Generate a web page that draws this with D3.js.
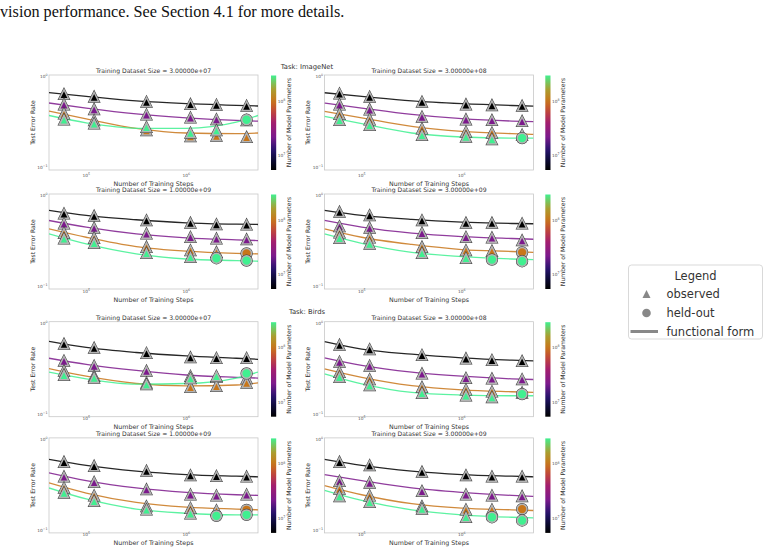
<!DOCTYPE html>
<html>
<head>
<meta charset="utf-8">
<script src="https://cdn.jsdelivr.net/npm/d3@7"></script>
<style>
  body { margin: 0; background: #fff; }
  text { font-family: "DejaVu Sans", sans-serif; fill: #333; }
</style>
</head>
<body>
<svg id="chart" width="768" height="554"></svg>
<script>
// 1. Data
const tasks = ["ImageNet", "Birds"];
const datasetSizes = ["3.00000e+07", "3.00000e+08", "1.00000e+09", "3.00000e+09"];
const trainSteps = [6e4, 1.2e5, 4e5, 1.1e6, 2e6, 4e6];
const fitSteps = [4.25e4, 1e5, 3.16e5, 1e6, 3.16e6, 5.2e6];
const modelParams = [5.4e6, 2.2e7, 1.0e8, 2.95e8];
const cbTicks = [1e7, 1e8];

// observed / held-out error, one row per model size (small -> large)
const errImageNet3e7 = [
  [0.637, 0.596, 0.524, 0.494, 0.486, 0.474],
  [0.490, 0.435, 0.380, 0.352, 0.337, 0.329],
  [0.389, 0.329, 0.255, 0.220, 0.222, 0.215],
  [0.334, 0.302, 0.277, 0.240, 0.255, 0.335]
];
const errImageNet3e8 = [
  [0.646, 0.594, 0.524, 0.490, 0.481, 0.473],
  [0.490, 0.432, 0.359, 0.336, 0.330, 0.322],
  [0.384, 0.336, 0.267, 0.246, 0.240, 0.228],
  [0.330, 0.291, 0.226, 0.217, 0.204, 0.211]
];
const errImageNet1e9 = [
  [0.629, 0.593, 0.531, 0.497, 0.480, 0.476],
  [0.489, 0.438, 0.379, 0.348, 0.334, 0.328],
  [0.386, 0.340, 0.271, 0.249, 0.238, 0.232],
  [0.334, 0.299, 0.232, 0.210, 0.205, 0.193]
];
const errImageNet3e9 = [
  [0.656, 0.603, 0.531, 0.497, 0.497, 0.489],
  [0.456, 0.438, 0.386, 0.348, 0.343, 0.320],
  [0.389, 0.343, 0.271, 0.249, 0.245, 0.238],
  [0.340, 0.294, 0.232, 0.205, 0.198, 0.190]
];
const errBirds3e7 = [
  [0.589, 0.532, 0.468, 0.419, 0.412, 0.412],
  [0.385, 0.339, 0.298, 0.262, 0.255, 0.247],
  [0.298, 0.262, 0.221, 0.198, 0.203, 0.221],
  [0.269, 0.251, 0.212, 0.247, 0.262, 0.281]
];
const errBirds3e8 = [
  [0.574, 0.514, 0.445, 0.408, 0.392, 0.381],
  [0.375, 0.339, 0.278, 0.249, 0.245, 0.241],
  [0.290, 0.241, 0.198, 0.186, 0.177, 0.172],
  [0.255, 0.207, 0.170, 0.160, 0.153, 0.167]
];
const errBirds1e9 = [
  [0.562, 0.508, 0.448, 0.401, 0.394, 0.388],
  [0.388, 0.338, 0.281, 0.247, 0.241, 0.247],
  [0.293, 0.241, 0.184, 0.176, 0.166, 0.169],
  [0.258, 0.209, 0.169, 0.153, 0.145, 0.149]
];
const errBirds3e9 = [
  [0.562, 0.517, 0.437, 0.401, 0.388, 0.388],
  [0.347, 0.333, 0.269, 0.247, 0.241, 0.237],
  [0.286, 0.241, 0.184, 0.169, 0.169, 0.172],
  [0.237, 0.204, 0.172, 0.140, 0.140, 0.129]
];

// functional form, sampled at fitSteps
const fitImageNet3e7 = [
  [0.665, 0.605, 0.538, 0.502, 0.482, 0.474],
  [0.511, 0.450, 0.389, 0.352, 0.329, 0.323],
  [0.417, 0.343, 0.270, 0.240, 0.236, 0.240],
  [0.373, 0.310, 0.270, 0.270, 0.315, 0.373]
];
const fitImageNet3e8 = [
  [0.662, 0.604, 0.538, 0.502, 0.480, 0.473],
  [0.510, 0.450, 0.384, 0.344, 0.324, 0.319],
  [0.414, 0.352, 0.284, 0.250, 0.236, 0.232],
  [0.365, 0.303, 0.240, 0.217, 0.211, 0.211]
];
const fitImageNet1e9 = [
  [0.684, 0.603, 0.541, 0.501, 0.484, 0.480],
  [0.531, 0.449, 0.379, 0.343, 0.326, 0.320],
  [0.430, 0.348, 0.275, 0.245, 0.232, 0.229],
  [0.379, 0.294, 0.229, 0.201, 0.193, 0.190]
];
const fitImageNet3e9 = [
  [0.684, 0.603, 0.545, 0.510, 0.492, 0.489],
  [0.531, 0.449, 0.386, 0.354, 0.337, 0.331],
  [0.430, 0.348, 0.290, 0.255, 0.243, 0.238],
  [0.379, 0.299, 0.238, 0.214, 0.201, 0.198]
];
const fitBirds3e7 = [
  [0.631, 0.541, 0.476, 0.437, 0.412, 0.401],
  [0.412, 0.353, 0.303, 0.270, 0.255, 0.250],
  [0.318, 0.262, 0.218, 0.205, 0.210, 0.222],
  [0.290, 0.245, 0.215, 0.218, 0.250, 0.290]
];
const fitBirds3e8 = [
  [0.626, 0.519, 0.456, 0.416, 0.392, 0.385],
  [0.416, 0.344, 0.290, 0.262, 0.245, 0.241],
  [0.316, 0.255, 0.207, 0.186, 0.177, 0.174],
  [0.278, 0.216, 0.174, 0.163, 0.160, 0.160]
];
const fitBirds1e9 = [
  [0.601, 0.517, 0.448, 0.411, 0.394, 0.388],
  [0.429, 0.353, 0.293, 0.262, 0.247, 0.243],
  [0.333, 0.258, 0.204, 0.181, 0.172, 0.169],
  [0.293, 0.222, 0.172, 0.155, 0.149, 0.149]
];
const fitBirds3e9 = [
  [0.601, 0.517, 0.448, 0.411, 0.394, 0.388],
  [0.411, 0.353, 0.293, 0.262, 0.243, 0.237],
  [0.311, 0.247, 0.197, 0.176, 0.169, 0.166],
  [0.276, 0.214, 0.169, 0.149, 0.140, 0.138]
];

// index of the first held-out point for each model size (6 = none)
const heldImageNet3e7 = [6, 6, 6, 5];
const heldImageNet3e8 = [6, 6, 6, 5];
const heldImageNet1e9 = [6, 6, 5, 4];
const heldImageNet3e9 = [6, 6, 5, 4];
const heldBirds3e7 = [6, 6, 6, 5];
const heldBirds3e8 = [6, 6, 6, 5];
const heldBirds1e9 = [6, 6, 5, 4];
const heldBirds3e9 = [6, 6, 5, 4];

const panels = [
  { task: 0, size: 0, err: errImageNet3e7, fit: fitImageNet3e7, held: heldImageNet3e7 },
  { task: 0, size: 1, err: errImageNet3e8, fit: fitImageNet3e8, held: heldImageNet3e8 },
  { task: 0, size: 2, err: errImageNet1e9, fit: fitImageNet1e9, held: heldImageNet1e9 },
  { task: 0, size: 3, err: errImageNet3e9, fit: fitImageNet3e9, held: heldImageNet3e9 },
  { task: 1, size: 0, err: errBirds3e7, fit: fitBirds3e7, held: heldBirds3e7 },
  { task: 1, size: 1, err: errBirds3e8, fit: fitBirds3e8, held: heldBirds3e8 },
  { task: 1, size: 2, err: errBirds1e9, fit: fitBirds1e9, held: heldBirds1e9 },
  { task: 1, size: 3, err: errBirds3e9, fit: fitBirds3e9, held: heldBirds3e9 }
];

// 2. Layout
const colLeft = [49, 324.5];
const rowTop = [75, 194, 321.7, 437.9];
const xlabOff = [15.5, 13, 12.3, 12.3]; // baseline of x label below each row
const AX_W = 209;
const AX_H = 95;
const cbLeft = [271, 545.3];
const CB_W = 5.2;

// 3. Colour map (black -> purple -> orange -> green)
const cmapStops = [0, 0.12, 0.22, 0.35, 0.5, 0.62, 0.73, 0.86, 1];
const cmapColors = ["#000000", "#0e0b3c", "#2a1470", "#7c1a8c", "#a31e6e", "#c0463a", "#c8761a", "#a8a032", "#40f090"];
const cmap = d3.scaleLinear().domain(cmapStops).range(cmapColors).interpolate(d3.interpolateRgb);
const paramPos = d3.scaleLog().domain([5.4e6, 2.95e8]).range([0, 1]);
const seriesColor = modelParams.map((p) => cmap(paramPos(p)));

const svg = d3.select("#chart");

// gradient for colorbars
const grad = svg.append("defs").append("linearGradient")
  .attr("id", "cmap").attr("x1", 0).attr("y1", 1).attr("x2", 0).attr("y2", 0);
d3.range(0, 1.0001, 0.05).forEach((t) => {
  grad.append("stop").attr("offset", t).attr("stop-color", cmap(t));
});

// caption line at the top
svg.append("text")
  .attr("x", 0).attr("y", 17)
  .style("font-family", "'Liberation Serif', 'Times New Roman', serif")
  .style("font-size", "16.2px").style("fill", "#111")
  .text("vision performance. See Section 4.1 for more details.");

// task headers
svg.append("text").attr("x", 307).attr("y", 68.5).attr("text-anchor", "middle")
  .attr("font-size", 6.8).text("Task: ImageNet");
svg.append("text").attr("x", 307).attr("y", 313.5).attr("text-anchor", "middle")
  .attr("font-size", 6.8).text("Task: Birds");

function powText(sel, exp) {
  sel.append("tspan").text("10");
  sel.append("tspan").attr("dy", -1.8).attr("font-size", 3.3).text(exp);
}

const triPath = (s) => `M0,${-s}L${-s},${s}L${s},${s}Z`;

function drawMarker(g, x, y, color, held) {
  const layers = [
    { stroke: "#3a3a3a", width: 2.5 },
    { stroke: "#b4b4b4", width: 1.5 }
  ];
  layers.forEach((l) => {
    const m = held
      ? g.append("circle").attr("cx", x).attr("cy", y).attr("r", 4.9)
      : g.append("path").attr("d", triPath(4.5)).attr("transform", `translate(${x},${y})`);
    m.attr("fill", color).attr("stroke", l.stroke).attr("stroke-width", l.width)
      .attr("stroke-linejoin", "miter");
  });
}

panels.forEach((p, i) => {
  const row = Math.floor(i / 2);
  const col = i % 2;
  const x0 = colLeft[col];
  const y0 = rowTop[row];

  const x = d3.scaleLog().domain([4.25e4, 5.2e6]).range([x0, x0 + AX_W]);
  const y = d3.scaleLog().domain([0.0944, 1.035]).range([y0 + AX_H, y0]);

  const g = svg.append("g");
  const clipId = "clip" + i;
  svg.select("defs").append("clipPath").attr("id", clipId)
    .append("rect").attr("x", x0).attr("y", y0).attr("width", AX_W).attr("height", AX_H);

  // axes frame
  g.append("rect").attr("x", x0).attr("y", y0).attr("width", AX_W).attr("height", AX_H)
    .attr("fill", "#fff").attr("stroke", "#c8c8c8").attr("stroke-width", 0.8);

  // tick labels
  [1e5, 1e6].forEach((t) => {
    const lab = g.append("text").attr("x", x(t)).attr("y", y0 + AX_H + xlabOff[row] - 9)
      .attr("text-anchor", "middle").attr("font-size", 4.3).style("fill", "#555");
    powText(lab, Math.round(Math.log10(t)));
  });
  [1, 0.1].forEach((t) => {
    const lab = g.append("text").attr("x", x0 - 1.5).attr("y", y(t) + 1.5)
      .attr("text-anchor", "end").attr("font-size", 4.3).style("fill", "#555");
    powText(lab, t === 1 ? "0" : "\u22121");
  });

  // titles and axis labels
  g.append("text").attr("x", x0 + AX_W / 2).attr("y", y0 - 1.8)
    .attr("text-anchor", "middle").attr("font-size", 6.1)
    .text("Training Dataset Size = " + datasetSizes[p.size]);
  g.append("text").attr("x", x0 + AX_W / 2).attr("y", y0 + AX_H + xlabOff[row])
    .attr("text-anchor", "middle").attr("font-size", 6.3)
    .text("Number of Training Steps");
  g.append("text")
    .attr("transform", `translate(${x0 - 14.5},${y0 + AX_H / 2}) rotate(-90)`)
    .attr("text-anchor", "middle").attr("font-size", 6.1)
    .text("Test Error Rate");

  // functional form lines
  const line = d3.line()
    .x((d, k) => x(fitSteps[k]))
    .y((d) => y(d))
    .curve(d3.curveMonotoneX);
  const lines = g.append("g").attr("clip-path", `url(#${clipId})`);
  const marks = g.append("g");
  p.fit.forEach((series, s) => {
    lines.append("path").datum(series).attr("d", line)
      .attr("fill", "none").attr("stroke", seriesColor[s])
      .attr("stroke-width", 1.3).attr("stroke-opacity", 0.85);
  });
  p.err.forEach((series, s) => {
    series.forEach((v, k) => {
      if (v == null) return;
      drawMarker(marks, x(trainSteps[k]), y(v), seriesColor[s], k >= p.held[s]);
    });
  });

  // colorbar
  const cx = cbLeft[col];
  const cb = d3.scaleLog().domain([5.4e6, 2.95e8]).range([y0 + AX_H, y0 + 0.5]);
  g.append("rect").attr("x", cx).attr("y", y0 + 0.5).attr("width", CB_W).attr("height", AX_H - 0.5)
    .attr("fill", "url(#cmap)");
  cbTicks.forEach((t) => {
    const lab = g.append("text").attr("x", cx + CB_W + 1.5).attr("y", cb(t) + 1.5)
      .attr("font-size", 4.3).style("fill", "#555");
    powText(lab, Math.round(Math.log10(t)));
  });
  g.append("text")
    .attr("transform", `translate(${cx + 19.5},${y0 + AX_H / 2}) rotate(-90)`)
    .attr("text-anchor", "middle").attr("font-size", 6.1)
    .text("Number of Model Parameters");
});

// 4. Legend
const lg = svg.append("g");
lg.append("rect").attr("x", 628.5).attr("y", 265).attr("width", 134).attr("height", 74)
  .attr("rx", 3).attr("fill", "#fff").attr("stroke", "#d5d5d5").attr("stroke-width", 0.9);
lg.append("text").attr("x", 695.5).attr("y", 279.5).attr("text-anchor", "middle")
  .attr("font-size", 11.5).text("Legend");
lg.append("path").attr("d", triPath(4)).attr("transform", "translate(646.5,294)").attr("fill", "#888");
lg.append("circle").attr("cx", 646.5).attr("cy", 313).attr("r", 4.3).attr("fill", "#888");
lg.append("line").attr("x1", 630.5).attr("x2", 658).attr("y1", 331.5).attr("y2", 331.5)
  .attr("stroke", "#888").attr("stroke-width", 3);
[["observed", 298], ["held-out", 317], ["functional form", 335.5]].forEach(([t, yy]) => {
  lg.append("text").attr("x", 666.5).attr("y", yy).attr("font-size", 11.5).text(t);
});
</script>
</body>
</html>
